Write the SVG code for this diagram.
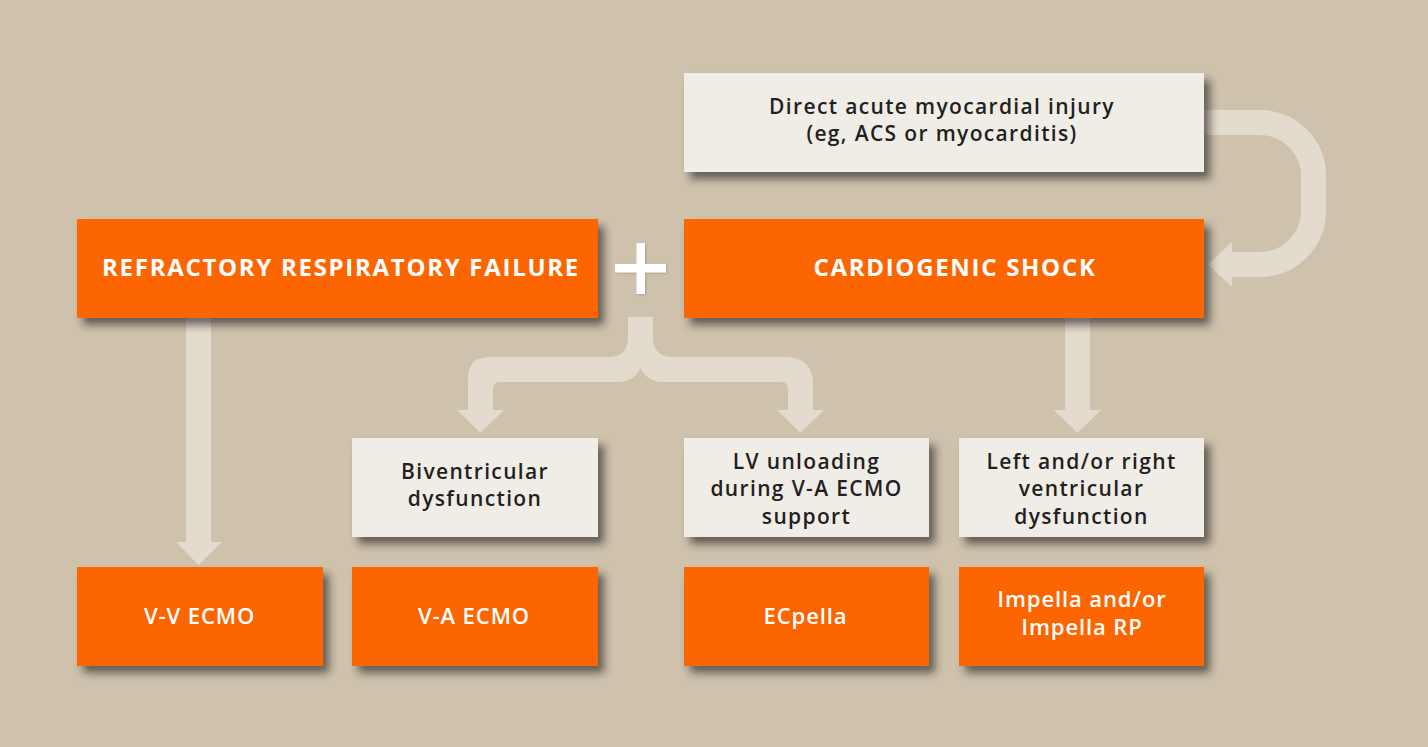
<svg xmlns="http://www.w3.org/2000/svg" width="1428" height="747" viewBox="0 0 1428 747">
  <defs>
    <filter id="sh" x="-10%" y="-20%" width="125%" height="150%">
      <feDropShadow dx="6" dy="7" stdDeviation="4.5" flood-color="#2a2622" flood-opacity="0.65"/>
    </filter>
    <filter id="shs" x="-30%" y="-30%" width="160%" height="160%">
      <feDropShadow dx="1" dy="1" stdDeviation="1" flood-color="#6b5f50" flood-opacity="0.35"/>
    </filter>
  </defs>
  <style>
    .bg { fill: #cec2ac; }
    .arr { fill: #e2dbce; }
    .arrs { fill: none; stroke: #e2dbce; stroke-width: 25; }
    .orange { fill: #fc6500; }
    .light { fill: #f0ede6; }
    .tw { font-family: "Open Sans", "Liberation Sans", sans-serif; fill: #ffffff; text-anchor: middle; }
    .cap { font-size: 24px; font-weight: 700; letter-spacing: 1.7px; }
    .mid { font-size: 22px; font-weight: 600; letter-spacing: 0.9px; }
    .td { font-family: "Open Sans", "Liberation Sans", sans-serif; fill: #231f1f; text-anchor: middle; font-size: 21px; font-weight: 600; letter-spacing: 1.35px; }
  </style>
  <rect class="bg" x="0" y="0" width="1428" height="747"/>

  <g id="connectors">
    <path class="arrs" d="M1195,122.5 H1260 A53.5,53.5 0 0 1 1313.5,176 V211 A53.5,53.5 0 0 1 1260,264.5 H1231"/>
    <polygon class="arr" points="1232,242 1208,264.5 1232,287"/>
    <rect class="arr" x="186" y="310" width="25" height="233"/>
    <polygon class="arr" points="176,542 222,542 198.5,565"/>
    <rect class="arr" x="1065" y="310" width="25" height="101"/>
    <polygon class="arr" points="1054,410 1101,410 1077.5,433"/>
    <path class="arr" d="M628,317 V337 Q628,357 608,357 H490 Q468,357 468,379 V410 H457 L480.5,433 L504,410 H493 V389 Q493,382 500,382 H617 Q634,382 640.5,368 Q647,382 664,382 H781 Q788,382 788,389 V410 H777 L800.5,433 L824,410 H813 V385 Q813,357 785,357 H673 Q653,357 653,337 V317 Z"/>
  </g>

  <g id="plus" filter="url(#shs)">
    <rect x="636.5" y="243" width="8.5" height="51" fill="#ffffff"/>
    <rect x="615" y="264" width="51" height="8.5" fill="#ffffff"/>
  </g>

  <g id="n-injury">
    <rect class="light" x="684" y="73" width="520" height="99" filter="url(#sh)"/>
    <text class="td" x="942" y="113.5">Direct acute myocardial injury</text>
    <text class="td" x="942" y="141">(eg, ACS or myocarditis)</text>
  </g>

  <g id="n-rrf">
    <rect class="orange" x="77" y="219" width="521" height="99" filter="url(#sh)"/>
    <text class="tw cap" x="341" y="276">REFRACTORY RESPIRATORY FAILURE</text>
  </g>

  <g id="n-cs">
    <rect class="orange" x="684" y="219" width="520" height="99" filter="url(#sh)"/>
    <text class="tw cap" x="955" y="276">CARDIOGENIC SHOCK</text>
  </g>

  <g id="n-bivent">
    <rect class="light" x="352" y="438" width="246" height="99" filter="url(#sh)"/>
    <text class="td" x="475" y="478.5">Biventricular</text>
    <text class="td" x="475" y="506">dysfunction</text>
  </g>

  <g id="n-lvunload">
    <rect class="light" x="684" y="438" width="245" height="99" filter="url(#sh)"/>
    <text class="td" x="806.5" y="468.5">LV unloading</text>
    <text class="td" x="806.5" y="496">during V-A ECMO</text>
    <text class="td" x="806.5" y="523.5">support</text>
  </g>

  <g id="n-lrvent">
    <rect class="light" x="959" y="438" width="245" height="99" filter="url(#sh)"/>
    <text class="td" x="1081.5" y="468.5">Left and/or right</text>
    <text class="td" x="1081.5" y="496">ventricular</text>
    <text class="td" x="1081.5" y="523.5">dysfunction</text>
  </g>

  <g id="n-vv">
    <rect class="orange" x="77" y="567" width="246" height="99" filter="url(#sh)"/>
    <text class="tw mid" x="199.5" y="624">V-V ECMO</text>
  </g>

  <g id="n-va">
    <rect class="orange" x="352" y="567" width="246" height="99" filter="url(#sh)"/>
    <text class="tw mid" x="474" y="624">V-A ECMO</text>
  </g>

  <g id="n-ecpella">
    <rect class="orange" x="684" y="567" width="245" height="99" filter="url(#sh)"/>
    <text class="tw mid" x="805.5" y="624">ECpella</text>
  </g>

  <g id="n-impella">
    <rect class="orange" x="959" y="567" width="245" height="99" filter="url(#sh)"/>
    <text class="tw mid" x="1082" y="607">Impella and/or</text>
    <text class="tw mid" x="1082" y="635">Impella RP</text>
  </g>
</svg>
